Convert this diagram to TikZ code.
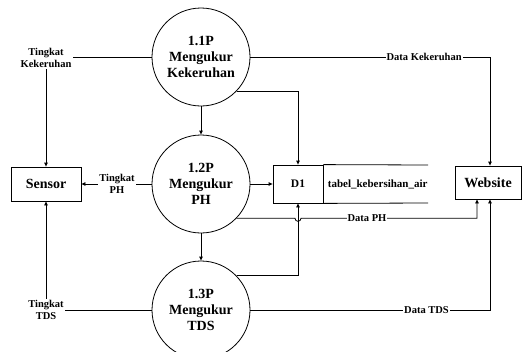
\documentclass[tikz,border=0pt]{standalone}
\usepackage{fontspec}
\setmainfont{Liberation Serif}
\usetikzlibrary{arrows.meta}
\begin{document}
\begin{tikzpicture}[x=1pt,y=-1pt,
  line width=0.8pt,
  proc/.style={draw,circle,minimum size=98pt,inner sep=0pt,align=center,font=\fontsize{14}{16}\selectfont\bfseries},
  ent/.style={draw,rectangle,inner sep=0pt,font=\fontsize{14}{16}\selectfont\bfseries},
  lbl/.style={fill=white,inner sep=1pt,align=center,font=\fontsize{10.5}{12}\selectfont\bfseries},
  arr/.style={-{Triangle[length=4pt,width=3.5pt]}}]
\useasboundingbox (0,0) rectangle (522,351);
\clip (0,0) rectangle (522,351);
% processes
\node[proc] (p1) at (201,57) {1.1P\\Mengukur\\Kekeruhan};
\node[proc] (p2) at (201,184) {1.2P\\Mengukur\\PH};
\node[proc] (p3) at (201,310) {1.3P\\Mengukur\\TDS};
% entities
\node[ent,minimum width=70pt,minimum height=34pt] (sensor) at (46,184) {Sensor};
\node[ent,minimum width=66pt,minimum height=33pt] (web) at (488,182.5) {Website};
% data store
\node[draw,rectangle,minimum width=50pt,minimum height=38pt,inner sep=0pt,font=\fontsize{11.5}{13}\selectfont\bfseries] (d1) at (298,184) {D1};
\coordinate (dstn) at (428,165);
\coordinate (dsts) at (428,203);
\draw (d1.north east) -- (dstn);
\draw (d1.south east) -- (dsts);
\node[anchor=west,inner sep=0pt,font=\fontsize{11}{13}\selectfont\bfseries] (d1t) at (327.5,184) {tabel\_kebersihan\_air};
% labels
\node[lbl] (lk) at (46,58) {Tingkat\\Kekeruhan};
\node[lbl] (lph) at (117,184) {Tingkat\\PH};
\node[lbl] (ltds) at (46,310) {Tingkat\\TDS};
\coordinate (xa) at (490,0);
\coordinate (xb) at (477,0);
% 1.1P flows
\draw (p1.west) -- (p1.west -| lk.east);
\draw[arr] (lk.south) -- (sensor.north);
\draw[arr] (p1.east) -- node[lbl,pos=0.725]{Data Kekeruhan} (p1.east -| xa) -- (web.north -| xa);
\draw[arr] (p1.-44) -| (d1.north);
\draw[arr] (p1.south) -- (p2.north);
% 1.2P flows
\draw (p2.west) -- (p2.west -| lph.east);
\draw[arr] (lph.west |- sensor.east) -- (sensor.east);
\draw[arr] (p2.east) -- (d1.west);
\coordinate (ph0) at (p2.-44);
\coordinate (hopa) at (295,0);
\draw[arr] (ph0) -- (ph0 -| hopa) arc[start angle=180,end angle=360,radius=3pt]
  -- node[lbl,pos=0.375]{Data PH} (ph0 -| xb) -- (web.south -| xb);
\draw[arr] (p2.south) -- (p3.north);
% 1.3P flows
\draw (p3.west) -- (p3.west -| ltds.east);
\draw[arr] (ltds.north) -- (sensor.south);
\draw[arr] (p3.44) -| (d1.south);
\draw[arr] (p3.east) -- node[lbl,pos=0.735]{Data TDS} (p3.east -| xa) -- (web.south -| xa);
\end{tikzpicture}
\end{document}
